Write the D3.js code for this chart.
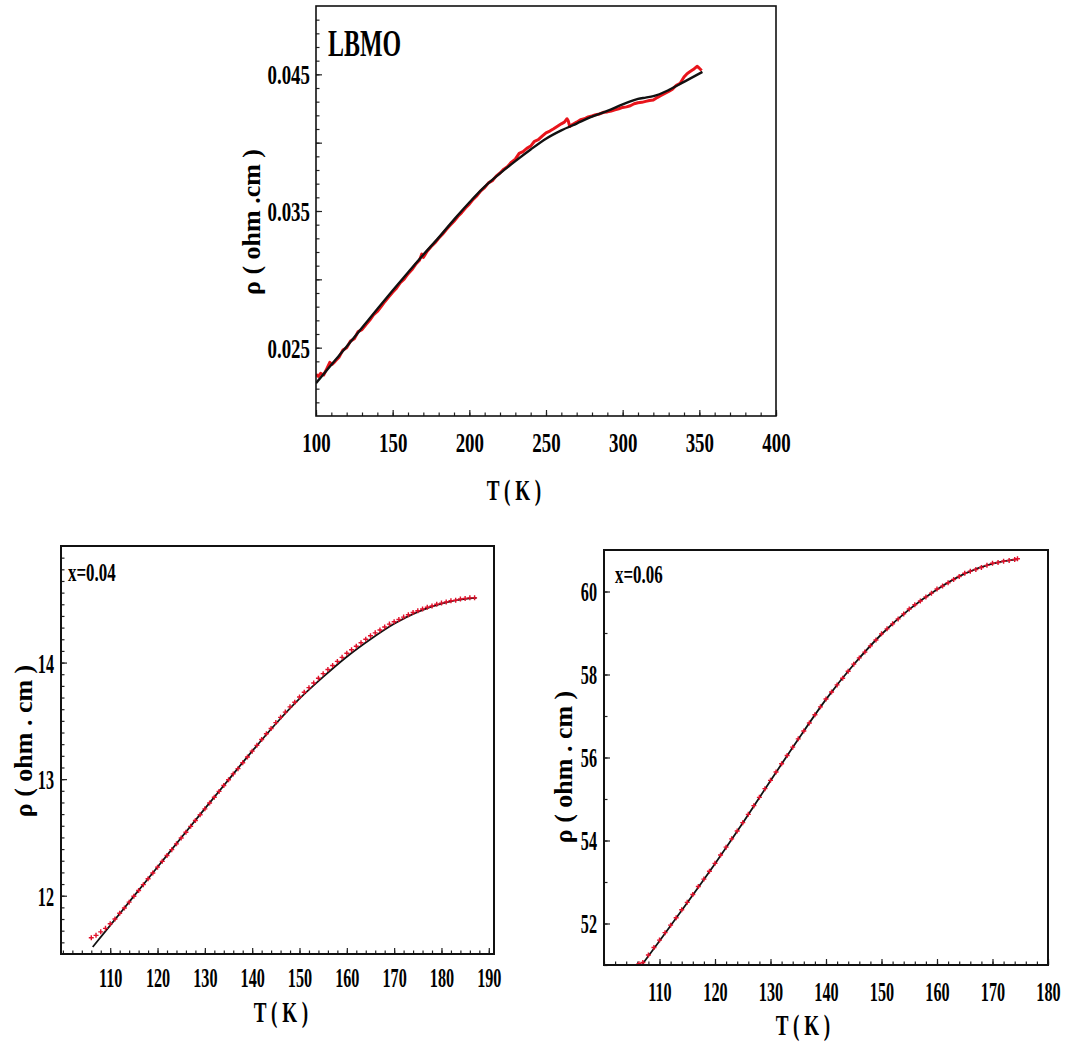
<!DOCTYPE html>
<html>
<head>
<meta charset="utf-8">
<script src="https://cdn.jsdelivr.net/npm/d3@7"></script>
<style>
  html, body { margin: 0; padding: 0; background: #fff; }
  svg { display: block; }
  .lbl { font-family: 'Liberation Serif', 'Times New Roman', serif; font-weight: bold; fill: #000; }
</style>
</head>
<body>
<svg id="fig" width="1070" height="1043"></svg>
<script>
// ---------- LBMO: measured resistivity and model fit ----------
const lbmoFitT   = [100, 110, 120, 130, 140, 150, 160, 170, 180, 190, 200, 210, 220, 230, 240, 250, 260, 270, 280, 290, 300, 305, 310, 315, 320, 330, 340, 352];
const lbmoFitRho = [0.02240, 0.02375, 0.02508, 0.02645, 0.02783, 0.02918, 0.03050, 0.03180, 0.03305, 0.03437, 0.03562, 0.03678, 0.03775, 0.03865, 0.03950, 0.04029, 0.04090, 0.04140, 0.04190, 0.04232, 0.04280, 0.04302, 0.04320, 0.04330, 0.04340, 0.04385, 0.04445, 0.04518];

const lbmoDataT = [100, 101.5, 103, 105, 107, 109, 110.5, 112.5, 115, 117.5, 120, 122.5, 125, 127.5, 130, 132.5, 135, 137.5, 140, 142.5, 145, 147.5, 150, 152.5, 155, 157.5, 160, 162.5, 165, 167.5, 169, 170, 172.5, 175, 177.5, 180, 182.5, 185, 187.5, 190, 192.5, 195, 197.5, 200, 202.5, 205, 207.5, 210, 212.5, 215, 217.5, 220, 222.5, 225, 227.5, 230, 232.5, 235, 237.5, 240, 242.5, 245, 247.5, 250, 252.5, 255, 257.5, 260, 262, 263.7, 264.5, 265.5, 267.5, 270, 272.5, 275, 277.5, 280, 282.5, 285, 287.5, 290, 292.5, 295, 297.5, 300, 302.5, 305, 307.5, 310, 312.5, 315, 317.5, 320, 322.5, 325, 327.5, 330, 332.5, 335, 337.5, 340, 342, 344, 346, 348.5, 350, 351.5];
const lbmoDataRho = [0.02305, 0.02290, 0.02312, 0.02300, 0.02345, 0.02392, 0.02378, 0.02400, 0.02430, 0.02482, 0.02500, 0.02548, 0.02565, 0.02618, 0.02632, 0.02668, 0.02700, 0.02740, 0.02765, 0.02800, 0.02838, 0.02872, 0.02905, 0.02935, 0.02975, 0.03002, 0.03040, 0.03070, 0.03110, 0.03140, 0.03185, 0.03160, 0.03205, 0.03238, 0.03266, 0.03300, 0.03330, 0.03365, 0.03395, 0.03425, 0.03460, 0.03488, 0.03522, 0.03550, 0.03585, 0.03612, 0.03648, 0.03672, 0.03706, 0.03722, 0.03755, 0.03778, 0.03806, 0.03825, 0.03858, 0.03880, 0.03922, 0.03935, 0.03958, 0.03975, 0.04010, 0.04022, 0.04048, 0.04072, 0.04085, 0.04102, 0.04120, 0.04138, 0.04150, 0.04175, 0.04160, 0.04118, 0.04135, 0.04150, 0.04168, 0.04175, 0.04188, 0.04195, 0.04205, 0.04210, 0.04222, 0.04225, 0.04232, 0.04240, 0.04248, 0.04258, 0.04262, 0.04270, 0.04285, 0.04292, 0.04295, 0.04302, 0.04308, 0.04312, 0.04330, 0.04345, 0.04360, 0.04375, 0.04392, 0.04420, 0.04435, 0.04480, 0.04505, 0.04520, 0.04535, 0.04559, 0.04545, 0.04528];

const lbmoXTicks = [100, 150, 200, 250, 300, 350, 400];
const lbmoYTicks = [0.025, 0.035, 0.045];
const lbmoYMid   = [0.030, 0.040];

// ---------- x = 0.04 ----------
const x04FitT   = [106.3, 110, 115, 120, 125, 130, 135, 140, 145, 150, 155, 160, 165, 170, 175, 180, 185, 187.4];
const x04FitRho = [11.56, 11.745, 11.996, 12.246, 12.497, 12.747, 12.995, 13.24, 13.475, 13.69, 13.877, 14.05, 14.20, 14.333, 14.435, 14.505, 14.547, 14.555];

const x04DataT = [106, 107, 108, 109, 110, 111, 112, 113, 114, 115, 116, 117, 118, 119, 120, 121, 122, 123, 124, 125, 126, 127, 128, 129, 130, 131, 132, 133, 134, 135, 136, 137, 138, 139, 140, 141, 142, 143, 144, 145, 146, 147, 148, 149, 150, 151, 152, 153, 154, 155, 156, 157, 158, 159, 160, 161, 162, 163, 164, 165, 166, 167, 168, 169, 170, 171, 172, 173, 174, 175, 176, 177, 178, 179, 180, 181, 182, 183, 184, 185, 186, 187];
const x04DataRho = [11.64, 11.66, 11.69, 11.72, 11.76, 11.80, 11.85, 11.895, 11.945, 11.995, 12.045, 12.095, 12.145, 12.195, 12.245, 12.295, 12.345, 12.395, 12.445, 12.495, 12.545, 12.595, 12.645, 12.695, 12.745, 12.795, 12.845, 12.895, 12.945, 12.995, 13.045, 13.09, 13.14, 13.19, 13.24, 13.29, 13.34, 13.39, 13.435, 13.485, 13.53, 13.575, 13.62, 13.66, 13.705, 13.745, 13.785, 13.825, 13.865, 13.905, 13.94, 13.975, 14.01, 14.045, 14.08, 14.11, 14.14, 14.17, 14.20, 14.23, 14.255, 14.28, 14.305, 14.33, 14.35, 14.37, 14.39, 14.41, 14.43, 14.445, 14.46, 14.475, 14.485, 14.50, 14.51, 14.52, 14.53, 14.535, 14.545, 14.55, 14.555, 14.555];

const x04XTicks = [110, 120, 130, 140, 150, 160, 170, 180, 190];
const x04YTicks = [12, 13, 14];

// ---------- x = 0.06 ----------
const x06FitT   = [106.8, 110, 115, 120, 125, 130, 135, 140, 145, 150, 155, 160, 165, 170, 174.5];
const x06FitRho = [51.0, 51.58, 52.50, 53.44, 54.42, 55.44, 56.44, 57.40, 58.24, 58.97, 59.57, 60.05, 60.43, 60.67, 60.78];

const x06DataT = [106.3, 107, 108, 109, 110, 111, 112, 113, 114, 115, 116, 117, 118, 119, 120, 121, 122, 123, 124, 125, 126, 127, 128, 129, 130, 131, 132, 133, 134, 135, 136, 137, 138, 139, 140, 141, 142, 143, 144, 145, 146, 147, 148, 149, 150, 151, 152, 153, 154, 155, 156, 157, 158, 159, 160, 161, 162, 163, 164, 165, 166, 167, 168, 169, 170, 171, 172, 173, 174, 174.5];
const x06DataRho = [51.03, 51.06, 51.24, 51.42, 51.60, 51.78, 51.96, 52.14, 52.33, 52.51, 52.70, 52.89, 53.07, 53.26, 53.45, 53.65, 53.84, 54.04, 54.23, 54.43, 54.63, 54.84, 55.04, 55.25, 55.45, 55.65, 55.85, 56.05, 56.25, 56.45, 56.64, 56.83, 57.03, 57.22, 57.41, 57.58, 57.75, 57.91, 58.08, 58.25, 58.40, 58.54, 58.69, 58.83, 58.98, 59.10, 59.22, 59.34, 59.46, 59.58, 59.68, 59.77, 59.87, 59.96, 60.06, 60.13, 60.21, 60.29, 60.36, 60.44, 60.49, 60.53, 60.58, 60.63, 60.68, 60.70, 60.73, 60.75, 60.77, 60.79];

const x06XTicks = [110, 120, 130, 140, 150, 160, 170, 180];
const x06YTicks = [52, 54, 56, 58, 60];

const svg = d3.select("#fig");
const FIT_COLOR = "#111";
const DATA_COLOR = "#e8141b";
const CROSS_COLOR = "#e0102a";

// Condensed bold serif text placed with a horizontal squeeze
function label(parent, str, x, y, size, sx, anchor, rotate) {
  return parent.append("text")
    .attr("class", "lbl")
    .attr("font-size", size)
    .attr("text-anchor", anchor || "middle")
    .attr("dominant-baseline", "central")
    .attr("transform", `translate(${x},${y})` + (rotate ? ` rotate(${rotate})` : "") + ` scale(${sx},1)`)
    .text(str);
}

function panel(o) {
  const w = o.right - o.left, h = o.bottom - o.top;
  const g = svg.append("g").attr("transform", `translate(${o.left},${o.top})`);
  const x = d3.scaleLinear().domain(o.xDomain).range([0, w]);
  const y = d3.scaleLinear().domain(o.yDomain).range([h, 0]);

  const clipId = "clip-" + o.id;
  g.append("clipPath").attr("id", clipId).append("rect").attr("width", w).attr("height", h);

  // minor ticks (inward)
  g.append("g").attr("transform", `translate(0,${h})`)
    .call(d3.axisBottom(x).tickValues(o.xMinor).tickSize(-o.minorLen).tickFormat(""));
  g.append("g")
    .call(d3.axisLeft(y).tickValues(o.yMinor).tickSize(-o.minorLen).tickFormat(""));
  if (o.yMid) {
    g.append("g").call(d3.axisLeft(y).tickValues(o.yMid).tickSize(-o.majorLen).tickFormat(""));
  }

  // major ticks with labels
  const xAxis = g.append("g").attr("transform", `translate(0,${h})`)
    .call(d3.axisBottom(x).tickValues(o.xTicks).tickSize(-o.majorLen).tickFormat(o.xFmt));
  const yAxis = g.append("g")
    .call(d3.axisLeft(y).tickValues(o.yTicks).tickSize(-o.majorLen).tickFormat(o.yFmt));

  g.selectAll(".domain").remove();
  g.selectAll(".tick line").attr("stroke", "#222").attr("stroke-width", 1.2);

  xAxis.selectAll("text")
    .attr("class", "lbl").attr("fill", "#000")
    .attr("font-size", o.tickSize).attr("font-family", null)
    .attr("y", o.xLabelOff).attr("dy", "0.35em")
    .attr("transform", `scale(${o.tickSx},1)`);
  yAxis.selectAll("text")
    .attr("class", "lbl").attr("fill", "#000")
    .attr("font-size", o.tickSize).attr("font-family", null)
    .attr("x", -o.yLabelOff / o.tickSx).attr("dy", "0.35em")
    .attr("transform", `scale(${o.tickSx},1)`);

  const plot = g.append("g").attr("clip-path", `url(#${clipId})`);

  const fitLine = d3.line().x((d) => x(d[0])).y((d) => y(d[1])).curve(d3.curveMonotoneX);
  const dataLine = d3.line().x((d) => x(d[0])).y((d) => y(d[1]));

  const fit = o.fitT.map((t, i) => [t, o.fitRho[i]]);
  const data = o.dataT.map((t, i) => [t, o.dataRho[i]]);

  if (o.dataAsLine) {
    plot.append("path").datum(data)
      .attr("fill", "none").attr("stroke", DATA_COLOR)
      .attr("stroke-width", 3).attr("stroke-linejoin", "round")
      .attr("d", dataLine);
    plot.append("path").datum(fit)
      .attr("fill", "none").attr("stroke", FIT_COLOR)
      .attr("stroke-width", 2.4).attr("d", fitLine);
  } else {
    plot.append("path").datum(fit)
      .attr("fill", "none").attr("stroke", FIT_COLOR)
      .attr("stroke-width", 1.8).attr("d", fitLine);
    const c = 2.5;
    plot.selectAll("path.pt").data(data).join("path")
      .attr("class", "pt")
      .attr("d", (d) => {
        const px = x(d[0]), py = y(d[1]);
        return `M${px - c},${py}H${px + c}M${px},${py - c}V${py + c}`;
      })
      .attr("stroke", CROSS_COLOR).attr("stroke-width", 1.4).attr("fill", "none");
  }

  // frame
  g.append("rect").attr("width", w).attr("height", h)
    .attr("fill", "none").attr("stroke", "#111").attr("stroke-width", o.frameW);

  // titles and axis captions
  label(g, o.tag, o.tagX, o.tagY, o.tagSize, o.tagSx, "start");
  label(g, "T ( K )", o.xTitleX - o.left, o.xTitleY - o.top, o.xTitleSize, o.xTitleSx, "middle");
  label(g, o.yTitle, o.yTitleX - o.left, o.yTitleY - o.top, o.yTitleSize, 1, "middle", -90);
}

panel({
  id: "lbmo",
  left: 316, right: 776, top: 6, bottom: 416,
  xDomain: [100, 400], yDomain: [0.020, 0.050],
  xTicks: lbmoXTicks, yTicks: lbmoYTicks, yMid: lbmoYMid,
  xMinor: d3.range(100, 401, 10), yMinor: d3.range(21, 50).map((v) => v / 1000),
  xFmt: d3.format("d"), yFmt: d3.format(".3f"),
  majorLen: 6, minorLen: 3.5, frameW: 1.6,
  tickSize: 27, tickSx: 0.7, xLabelOff: 27, yLabelOff: 6,
  fitT: lbmoFitT, fitRho: lbmoFitRho, dataT: lbmoDataT, dataRho: lbmoDataRho, dataAsLine: true,
  tag: "LBMO", tagX: 12, tagY: 37, tagSize: 38, tagSx: 0.63,
  xTitleX: 514, xTitleY: 490, xTitleSize: 29, xTitleSx: 0.66,
  yTitle: "\u03C1 ( ohm .cm )", yTitleX: 251, yTitleY: 222, yTitleSize: 26
});

panel({
  id: "x04",
  left: 61, right: 494, top: 546, bottom: 954,
  xDomain: [99.6, 191.1], yDomain: [11.5, 15.0],
  xTicks: x04XTicks, yTicks: x04YTicks,
  xMinor: d3.range(100, 191, 2), yMinor: d3.range(116, 150).map((v) => v / 10),
  xFmt: d3.format("d"), yFmt: d3.format("d"),
  majorLen: 6, minorLen: 3.5, frameW: 2,
  tickSize: 27, tickSx: 0.6, xLabelOff: 24, yLabelOff: 7,
  fitT: x04FitT, fitRho: x04FitRho, dataT: x04DataT, dataRho: x04DataRho, dataAsLine: false,
  tag: "x=0.04", tagX: 7, tagY: 26, tagSize: 26, tagSx: 0.65,
  xTitleX: 281, xTitleY: 1012, xTitleSize: 29, xTitleSx: 0.66,
  yTitle: "\u03C1 ( ohm . cm )", yTitleX: 23, yTitleY: 741, yTitleSize: 26
});

panel({
  id: "x06",
  left: 604, right: 1048, top: 550, bottom: 965,
  xDomain: [100, 180], yDomain: [51, 61],
  xTicks: x06XTicks, yTicks: x06YTicks,
  xMinor: d3.range(100, 181, 2), yMinor: d3.range(51, 61, 1),
  xFmt: d3.format("d"), yFmt: d3.format("d"),
  majorLen: 6, minorLen: 3.5, frameW: 2,
  tickSize: 27, tickSx: 0.6, xLabelOff: 27, yLabelOff: 7,
  fitT: x06FitT, fitRho: x06FitRho, dataT: x06DataT, dataRho: x06DataRho, dataAsLine: false,
  tag: "x=0.06", tagX: 11, tagY: 24, tagSize: 26, tagSx: 0.65,
  xTitleX: 803, xTitleY: 1025, xTitleSize: 29, xTitleSx: 0.66,
  yTitle: "\u03C1 ( ohm . cm )", yTitleX: 563, yTitleY: 767, yTitleSize: 26
});
</script>
</body>
</html>
